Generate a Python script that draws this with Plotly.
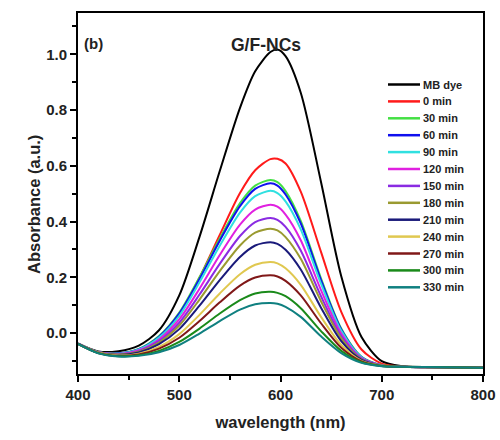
import plotly.graph_objects as go

wavelength = [400, 420, 440, 460, 480, 500, 520, 540, 560, 575, 590, 597, 605, 620, 640, 660, 680, 700, 720, 760, 800]

mb_dye  = [-0.037, -0.066, -0.065, -0.045, 0.010, 0.135, 0.345, 0.581, 0.808, 0.939, 1.008, 1.017, 0.993, 0.862, 0.542, 0.204, -0.014, -0.101, -0.119, -0.123, -0.125]
min_0   = [-0.038, -0.069, -0.074, -0.062, -0.018, 0.064, 0.199, 0.352, 0.502, 0.584, 0.624, 0.625, 0.608, 0.507, 0.291, 0.076, -0.059, -0.110, -0.120, -0.123, -0.125]
min_30  = [-0.038, -0.068, -0.073, -0.057, -0.011, 0.073, 0.200, 0.339, 0.466, 0.529, 0.549, 0.541, 0.509, 0.402, 0.196, 0.016, -0.085, -0.115, -0.121, -0.123, -0.125]
min_60  = [-0.038, -0.069, -0.073, -0.058, -0.013, 0.070, 0.194, 0.331, 0.455, 0.517, 0.537, 0.529, 0.497, 0.393, 0.190, 0.013, -0.086, -0.116, -0.121, -0.123, -0.125]
min_90  = [-0.038, -0.069, -0.074, -0.059, -0.016, 0.062, 0.182, 0.313, 0.432, 0.491, 0.510, 0.502, 0.472, 0.372, 0.177, 0.008, -0.087, -0.116, -0.121, -0.123, -0.125]
min_120 = [-0.038, -0.069, -0.075, -0.062, -0.023, 0.049, 0.159, 0.280, 0.389, 0.443, 0.460, 0.453, 0.425, 0.333, 0.154, -0.002, -0.090, -0.116, -0.121, -0.123, -0.125]
min_150 = [-0.038, -0.070, -0.076, -0.065, -0.029, 0.037, 0.138, 0.248, 0.348, 0.398, 0.413, 0.406, 0.381, 0.296, 0.132, -0.011, -0.092, -0.116, -0.121, -0.123, -0.125]
min_180 = [-0.039, -0.070, -0.077, -0.067, -0.034, 0.027, 0.120, 0.222, 0.314, 0.360, 0.374, 0.368, 0.344, 0.266, 0.114, -0.019, -0.094, -0.117, -0.121, -0.123, -0.125]
min_210 = [-0.039, -0.071, -0.079, -0.070, -0.040, 0.014, 0.098, 0.190, 0.273, 0.314, 0.326, 0.320, 0.299, 0.228, 0.091, -0.029, -0.096, -0.117, -0.121, -0.123, -0.125]
min_240 = [-0.039, -0.071, -0.081, -0.074, -0.050, -0.004, 0.065, 0.142, 0.211, 0.245, 0.255, 0.250, 0.232, 0.173, 0.058, -0.043, -0.100, -0.117, -0.121, -0.123, -0.125]
min_270 = [-0.039, -0.072, -0.082, -0.077, -0.056, -0.017, 0.043, 0.110, 0.170, 0.199, 0.207, 0.203, 0.187, 0.135, 0.035, -0.053, -0.102, -0.118, -0.121, -0.123, -0.125]
min_300 = [-0.039, -0.072, -0.083, -0.080, -0.064, -0.032, 0.016, 0.070, 0.118, 0.142, 0.148, 0.144, 0.132, 0.089, 0.007, -0.064, -0.105, -0.118, -0.121, -0.123, -0.125]
min_330 = [-0.039, -0.073, -0.084, -0.082, -0.069, -0.043, -0.002, 0.043, 0.084, 0.103, 0.108, 0.105, 0.094, 0.058, -0.012, -0.072, -0.107, -0.119, -0.121, -0.123, -0.125]

series_names = ["MB dye", "0 min", "30 min", "60 min", "90 min", "120 min", "150 min",
                "180 min", "210 min", "240 min", "270 min", "300 min", "330 min"]
series_values = [mb_dye, min_0, min_30, min_60, min_90, min_120, min_150,
                 min_180, min_210, min_240, min_270, min_300, min_330]
series_colors = ["#000000", "#ff1a1a", "#44e044", "#1010ee", "#30e0e0", "#e020e0", "#8a2be2",
                 "#9a9a30", "#1a1a7a", "#e0c850", "#801818", "#1a8a1a", "#108080"]

FONT = "Liberation Sans, Arial, sans-serif"
TXT = "#222222"

# plot-area geometry in pixels (for legend placement in paper coordinates)
L, R, T, B = 78, 483, 13, 374
W, H = R - L, B - T


def px_x(p):
    return (p - L) / W


def px_y(p):
    return (B - p) / H


fig = go.Figure()
for name, vals, col in zip(series_names, series_values, series_colors):
    fig.add_trace(go.Scatter(
        x=wavelength, y=vals, name=name, mode="lines", showlegend=False,
        line=dict(color=col, width=2, shape="spline", smoothing=0.8),
    ))

shapes = []
annotations = [
    dict(text="<b>G/F-NCs</b>", x=px_x(266), xref="paper", y=px_y(33), yref="paper",
         showarrow=False, font=dict(family=FONT, size=17.5, color=TXT)),
    dict(text="<b>(b)</b>", x=px_x(82), xref="paper", y=px_y(33), yref="paper", xanchor="left",
         showarrow=False, font=dict(family=FONT, size=15, color=TXT)),
    dict(text="<b>Absorbance (a.u.)</b>", x=px_x(23), xref="paper", y=px_y(205), yref="paper",
         textangle=-90, showarrow=False, font=dict(family=FONT, size=16.5, color=TXT)),
]
# legend (drawn manually to get the reference's compact row spacing)
y0, dy = 84.5, 16.9
for i, (name, col) in enumerate(zip(series_names, series_colors)):
    yy = px_y(y0 + i * dy)
    shapes.append(dict(type="line", xref="paper", yref="paper",
                       x0=px_x(388), x1=px_x(420), y0=yy, y1=yy,
                       line=dict(color=col, width=2.5)))
    annotations.append(dict(text="<b>%s</b>" % name, xref="paper", yref="paper",
                            x=px_x(421), y=yy, xanchor="left", yanchor="middle",
                            showarrow=False, font=dict(family=FONT, size=11, color=TXT)))

fig.update_layout(
    width=500, height=440,
    margin=dict(l=L, r=500 - R, t=T, b=440 - B),
    paper_bgcolor="white", plot_bgcolor="white",
    font=dict(family=FONT, color=TXT),
    showlegend=False,
    shapes=shapes,
    annotations=annotations,
)
fig.update_xaxes(
    range=[400, 800], dtick=100, tick0=400, automargin=False,
    showline=True, linecolor="black", linewidth=2, mirror=True,
    ticks="outside", ticklen=6, tickwidth=1.5, tickcolor="black",
    minor=dict(ticks="outside", dtick=50, ticklen=4, tickwidth=1.5, tickcolor="black"),
    showgrid=False, zeroline=False,
    tickfont=dict(family=FONT, size=15, color=TXT, weight="bold"),
    title=dict(text="wavelength (nm)", font=dict(family=FONT, size=16.5, color=TXT, weight="bold"), standoff=14),
)
fig.update_yaxes(
    range=[-0.147, 1.148], dtick=0.2, tick0=0, tickformat=".1f", automargin=False,
    showline=True, linecolor="black", linewidth=2, mirror=True,
    ticks="outside", ticklen=6, tickwidth=1.5, tickcolor="black",
    minor=dict(ticks="outside", dtick=0.1, ticklen=4, tickwidth=1.5, tickcolor="black"),
    showgrid=False, zeroline=False,
    tickfont=dict(family=FONT, size=15, color=TXT, weight="bold"),
)

fig.write_html("out.html")
